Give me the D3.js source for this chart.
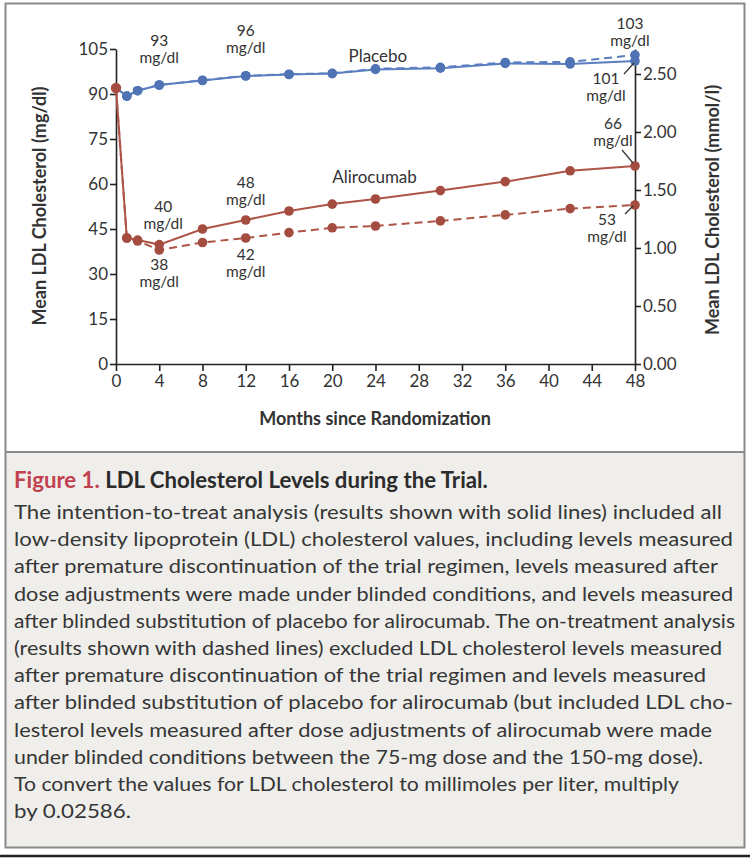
<!DOCTYPE html>
<html>
<head>
<meta charset="utf-8">
<script src="https://cdn.jsdelivr.net/npm/d3@7/dist/d3.min.js"></script>
<style>
  html, body { margin: 0; padding: 0; background: #ffffff; }
  svg { display: block; font-family: Lato, "Open Sans", sans-serif; }
</style>
</head>
<body>
<svg id="chart" width="750" height="860"></svg>
<script>
// ---------- data ----------
const months = [0, 1, 2, 4, 8, 12, 16, 20, 24, 30, 36, 42, 48];
const placeboITT   = [92, 89.3, 91.1, 93, 94.5, 96, 96.5, 96.8, 98.2, 98.6, 100.2, 100.0, 101];
const placeboOnTx  = [92, 89.3, 91.1, 93, 94.6, 96.1, 96.6, 96.9, 98.4, 98.9, 100.5, 100.7, 103];
const aliroITT     = [92, 42.0, 41.3, 39.8, 45.0, 48.0, 51.0, 53.3, 55.0, 57.8, 60.8, 64.4, 66];
const aliroOnTx    = [92, 42.0, 41.0, 38.0, 40.5, 42.0, 43.8, 45.4, 46.0, 47.7, 49.7, 51.8, 53];
const xTicks = [0, 4, 8, 12, 16, 20, 24, 28, 32, 36, 40, 44, 48];
const yTicksMgdl = [0, 15, 30, 45, 60, 75, 90, 105];
const yTicksMmol = [0, 0.5, 1.0, 1.5, 2.0, 2.5];
const mgdlToMmol = 0.02586;
const seriesNames = ["Placebo", "Alirocumab"];
const xTitle = "Months since Randomization";
const yLeftTitle = "Mean LDL Cholesterol (mg/dl)";
const yRightTitle = "Mean LDL Cholesterol (mmol/l)";
// value callouts: [month, value, text]
const callouts = [
  [4, 93, "93"], [12, 96, "96"], [48, 103, "103"], [48, 101, "101"],
  [48, 66, "66"], [4, 40, "40"], [12, 48, "48"], [4, 38, "38"], [12, 42, "42"], [48, 53, "53"]
];
const figLabel = "Figure 1.";
const figTitle = " LDL Cholesterol Levels during the Trial.";
const captionLines = [
  "The intention-to-treat analysis (results shown with solid lines) included all",
  "low-density lipoprotein (LDL) cholesterol values, including levels measured",
  "after premature discontinuation of the trial regimen, levels measured after",
  "dose adjustments were made under blinded conditions, and levels measured",
  "after blinded substitution of placebo for alirocumab. The on-treatment analysis",
  "(results shown with dashed lines) excluded LDL cholesterol levels measured",
  "after premature discontinuation of the trial regimen and levels measured",
  "after blinded substitution of placebo for alirocumab (but included LDL cho-",
  "lesterol levels measured after dose adjustments of alirocumab were made",
  "under blinded conditions between the 75-mg dose and the 150-mg dose).",
  "To convert the values for LDL cholesterol to millimoles per liter, multiply",
  "by 0.02586."
];

// ---------- layout / styling ----------
const BLUE = "#5a7ec0", BLUE_DOT = "#4f73b5";
const RED = "#ad5546", RED_DOT = "#a44c3f";
const TXT = "#333333";
// right edges (px) of the caption lines as set in the reference
const captionRightEdge = [722, 733, 718, 733, 735, 722, 706, 733, 712, 703, 679, 131];

const svg = d3.select("#chart");

// frame & caption panel
svg.append("rect").attr("x", 5).attr("y", 452).attr("width", 740).attr("height", 396)
  .attr("fill", "#efeeeb");
svg.append("rect").attr("x", 5.5).attr("y", 3.5).attr("width", 739).attr("height", 844)
  .attr("fill", "none").attr("stroke", "#8a8a8a").attr("stroke-width", 2);
svg.append("line").attr("x1", 5).attr("x2", 745).attr("y1", 452).attr("y2", 452)
  .attr("stroke", "#8a8a8a").attr("stroke-width", 2);
svg.append("line").attr("x1", 0).attr("x2", 750).attr("y1", 856).attr("y2", 856)
  .attr("stroke", "#222").attr("stroke-width", 2.5);

// scales
const x = d3.scaleLinear().domain([0, 48]).range([116, 635]);
const y = d3.scaleLinear().domain([0, 105]).range([364, 49]);
const yR = d3.scaleLinear().domain([0, 105 * mgdlToMmol]).range([364, 49]);

// axes
function styleAxis(g) {
  g.select(".domain").attr("stroke", "#222").attr("stroke-width", 1.6);
  g.selectAll(".tick line").attr("stroke", "#222").attr("stroke-width", 1.6);
  g.selectAll(".tick text").attr("fill", TXT).style("font-size", "17px")
    .style("font-family", "Lato, sans-serif");
}
svg.append("g").attr("transform", "translate(116,0)")
  .call(d3.axisLeft(y).tickValues(yTicksMgdl).tickSize(6).tickSizeOuter(0).tickPadding(2))
  .call(styleAxis);
svg.append("g").attr("transform", "translate(635,0)")
  .call(d3.axisRight(yR).tickValues(yTicksMmol).tickFormat(d3.format(".2f"))
        .tickSize(6).tickSizeOuter(0).tickPadding(2))
  .call(styleAxis);
svg.append("g").attr("transform", "translate(0,364)")
  .call(d3.axisBottom(x).tickValues(xTicks).tickSize(7).tickSizeOuter(0).tickPadding(4))
  .call(styleAxis);

// axis titles
svg.append("text").attr("x", 375).attr("y", 425).attr("text-anchor", "middle")
  .attr("fill", TXT).style("font-size", "18px").style("font-weight", "bold").text(xTitle);
svg.append("text").attr("transform", "translate(46,206) rotate(-90)").attr("text-anchor", "middle")
  .attr("fill", TXT).style("font-size", "18px").style("font-weight", "bold").text(yLeftTitle);
svg.append("text").attr("transform", "translate(719,210) rotate(-90)").attr("text-anchor", "middle")
  .attr("fill", TXT).style("font-size", "18px").style("font-weight", "bold").text(yRightTitle);

// lines
const line = d3.line().x(d => x(d[0])).y(d => y(d[1]));
const zip = vals => months.map((m, i) => [m, vals[i]]);
const seriesDefs = [
  { vals: placeboOnTx, color: BLUE, dot: BLUE_DOT, dash: "8,5" },
  { vals: placeboITT, color: BLUE, dot: BLUE_DOT, dash: null },
  { vals: aliroOnTx, color: RED, dot: RED_DOT, dash: "8,5" },
  { vals: aliroITT, color: RED, dot: RED_DOT, dash: null }
];
seriesDefs.forEach(s => {
  svg.append("path").datum(zip(s.vals)).attr("d", line).attr("fill", "none")
    .attr("stroke", s.color).attr("stroke-width", 2)
    .attr("stroke-dasharray", s.dash);
});
seriesDefs.forEach(s => {
  svg.selectAll(null).data(zip(s.vals).slice(1)).enter().append("circle")
    .attr("cx", d => x(d[0])).attr("cy", d => y(d[1])).attr("r", 4.8).attr("fill", s.dot);
});
// shared baseline point
svg.append("circle").attr("cx", x(months[0])).attr("cy", y(aliroITT[0])).attr("r", 5.2)
  .attr("fill", RED_DOT);

// series labels
svg.append("text").attr("x", x(21.5)).attr("y", y(100.7)).attr("fill", TXT)
  .style("font-size", "17px").text(seriesNames[0]);
svg.append("text").attr("x", x(20)).attr("y", y(60.3)).attr("fill", TXT)
  .style("font-size", "17px").text(seriesNames[1]);

// callouts: offsets (dx, dy for first-line baseline) and leader lines
const calloutPos = [
  { dx: 0, dy: -39, lead: null },
  { dx: 0, dy: -40, lead: null },
  { dx: -5, dy: -26, lead: null },
  { dx: -29, dy: 23, lead: [-11, 13, -1, 2] },
  { dx: -22, dy: -37, lead: [-13, -16, -2, -3] },
  { dx: 4, dy: -32, lead: null },
  { dx: 0, dy: -32, lead: null },
  { dx: 0, dy: 20, lead: null },
  { dx: 0, dy: 22, lead: null },
  { dx: -28, dy: 20, lead: [-10, 9, -2, 1] }
];
callouts.forEach((c, i) => {
  const p = calloutPos[i];
  const cx = x(c[0]), cy = y(c[1]);
  [c[2], "mg/dl"].forEach((s, k) => {
    svg.append("text").attr("x", cx + p.dx).attr("y", cy + p.dy + k * 17)
      .attr("text-anchor", "middle").attr("fill", TXT).style("font-size", "15.5px").text(s);
  });
  if (p.lead) {
    svg.append("line").attr("x1", cx + p.lead[0]).attr("y1", cy + p.lead[1])
      .attr("x2", cx + p.lead[2]).attr("y2", cy + p.lead[3])
      .attr("stroke", "#333").attr("stroke-width", 1.2);
  }
});

// caption
const title = svg.append("text").attr("x", 14).attr("y", 488)
  .style("font-size", "19px").style("font-weight", "bold");
title.append("tspan").attr("fill", "#c2414f").text(figLabel);
title.append("tspan").attr("fill", "#2b2b2b").text(figTitle);
const tw = title.node().getComputedTextLength();
title.style("font-size", (19 * 474 / tw).toFixed(2) + "px");

const cap = svg.append("g").attr("fill", "#363636");
captionLines.forEach((s, i) => {
  cap.append("text").attr("x", 14).attr("y", 519 + i * 27.2)
    .style("font-size", "18.5px")
    .attr("textLength", captionRightEdge[i] - 14)
    .attr("lengthAdjust", "spacingAndGlyphs")
    .text(s);
});
</script>
</body>
</html>
